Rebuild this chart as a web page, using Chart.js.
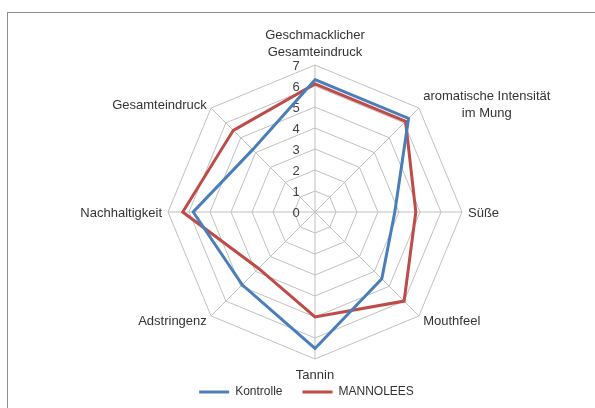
<!DOCTYPE html>
<html>
<head>
<meta charset="utf-8">
<script src="https://cdn.jsdelivr.net/npm/chart.js@4.4.1/dist/chart.umd.min.js"></script>
<style>
  body { margin: 0; background: #fff; }
  #wrap { position: relative; width: 595px; height: 408px; overflow: hidden; }
  #frame { position: absolute; left: 7px; top: 12px; width: 640px; height: 440px; border: 1px solid #8c8c8c; }
  canvas { position: absolute; left: 0; top: 0; }
</style>
</head>
<body>
<div id="wrap">
  <div id="frame"></div>
  <canvas id="myChart" width="595" height="408"></canvas>
</div>
<script>
// categories, clockwise from the top
var categories = [
  ["Geschmacklicher", "Gesamteindruck"],
  ["aromatische Intensität", "im Mung"],
  "Süße",
  "Mouthfeel",
  "Tannin",
  "Adstringenz",
  "Nachhaltigkeit",
  "Gesamteindruck"
];
var kontrolle = [6.3, 6.3, 3.8, 4.5, 6.5, 4.9, 5.8, 4.2];
var mannolees = [6.1, 6.1, 4.8, 6.0, 5.0, 3.8, 6.3, 5.5];
var tickMin = 0;
var tickMax = 7;

var textColor = '#333';
var labelFont = '13px "Liberation Sans"';
var lineH = 17;

// value labels 0..7 sit just left of the vertical axis
var tickLabels = {
  id: 'tickLabels',
  beforeDatasetsDraw: function (chart) {
    var s = chart.scales.r;
    var ctx = chart.ctx;
    ctx.save();
    ctx.font = labelFont;
    ctx.fillStyle = '#404040';
    ctx.textAlign = 'center';
    ctx.textBaseline = 'middle';
    s.ticks.forEach(function (t) {
      var p = s.getPointPositionForValue(0, t.value);
      ctx.fillText(t.label, p.x - 19, p.y + 1);
    });
    ctx.restore();
  }
};

// category labels placed like Excel does: centred lines, block beside the spoke end
var categoryLabels = {
  id: 'categoryLabels',
  afterDraw: function (chart) {
    var s = chart.scales.r;
    var ctx = chart.ctx;
    ctx.save();
    ctx.font = labelFont;
    ctx.fillStyle = textColor;
    ctx.textAlign = 'center';
    ctx.textBaseline = 'middle';
    categories.forEach(function (lab, i) {
      var lines = Array.isArray(lab) ? lab : [lab];
      var p = s.getPointPosition(i, s.drawingArea + 6);
      var w = Math.max.apply(null, lines.map(function (l) { return ctx.measureText(l).width; }));
      var h = lines.length * lineH;
      var dx = p.x - s.xCenter, dy = p.y - s.yCenter;
      var cx = p.x, top = p.y - h / 2;
      if (dx > 1) cx = p.x + w / 2;
      else if (dx < -1) cx = p.x - w / 2;
      if (Math.abs(dx) <= 1) top = dy < 0 ? p.y - h : p.y;
      lines.forEach(function (l, k) {
        ctx.fillText(l, cx, top + lineH * (k + 0.5) + 1.5);
      });
    });
    ctx.restore();
  }
};

var ctx = document.getElementById('myChart').getContext('2d');
var chart = new Chart(ctx, {
  type: 'radar',
  data: {
    labels: categories,
    datasets: [{
      label: 'Kontrolle',
      data: kontrolle,
      borderColor: '#4a7ebb',
      backgroundColor: '#4a7ebb',
      borderWidth: 3,
      fill: false,
      pointRadius: 0
    },
    {
      label: 'MANNOLEES',
      data: mannolees,
      borderColor: '#be4b48',
      backgroundColor: '#be4b48',
      borderWidth: 3,
      fill: false,
      pointRadius: 0
    }]
  },
  options: {
    responsive: false,
    animation: false,
    layout: { padding: { top: 65, left: 18, right: 0, bottom: 0 } },
    plugins: {
      legend: {
        position: 'bottom',
        labels: {
          usePointStyle: true,
          pointStyle: 'line',
          pointStyleWidth: 30,
          padding: 20,
          color: textColor,
          font: { family: 'Liberation Sans', size: 12 }
        }
      },
      tooltip: { enabled: false }
    },
    scales: {
      r: {
        min: tickMin,
        max: tickMax,
        ticks: { stepSize: 1, display: false },
        grid: { color: '#c0c0c0', lineWidth: 1 },
        angleLines: { color: '#c0c0c0', lineWidth: 1 },
        pointLabels: { display: false },
        // web sits a bit right of the legend centre and clear of the legend band
        afterSetDimensions: function (s) {
          s.drawingArea = Math.floor((s.height - 6) / 2);
          s.yCenter = s.top + s.drawingArea;
          s.xCenter += 9;
        }
      }
    }
  },
  plugins: [tickLabels, categoryLabels]
});
</script>
</body>
</html>
